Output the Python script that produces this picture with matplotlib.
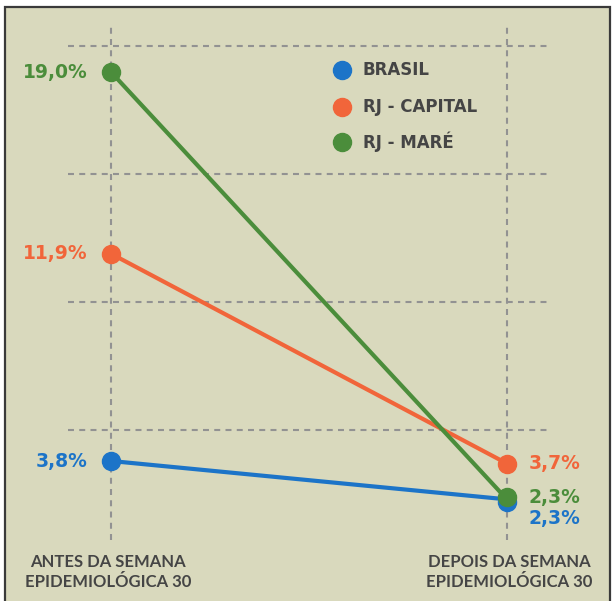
import matplotlib
matplotlib.use("Agg")
import matplotlib.pyplot as plt
from matplotlib.patches import Rectangle
from matplotlib.transforms import offset_copy

plt.rcParams['lines.scale_dashes'] = False

# Data
periods = ["ANTES DA SEMANA\nEPIDEMIOLÓGICA 30", "DEPOIS DA SEMANA\nEPIDEMIOLÓGICA 30"]
series_names = ["BRASIL", "RJ - CAPITAL", "RJ - MARÉ"]
brasil = [3.8, 2.3]
rj_capital = [11.9, 3.7]
rj_mare = [19.0, 2.3]
grid_values = [5, 10, 15, 20]

colors = {"BRASIL": "#1c74c8", "RJ - CAPITAL": "#f1653a", "RJ - MARÉ": "#4b8d3b"}
values = {"BRASIL": brasil, "RJ - CAPITAL": rj_capital, "RJ - MARÉ": rj_mare}

bg = "#d9d9bd"
text_gray = "#454545"
grid_gray = "#929292"
label_font = "Lato"
value_font = "DejaVu Sans"

W, H = 612, 601
fig = plt.figure(figsize=(W / 100, H / 100), dpi=100)
fig.patch.set_facecolor("white")

ax = fig.add_axes([0, 0, 1, 1])
ax.set_facecolor("none")
ax.set_xlim(-111 / 396, 501 / 396)
ax.set_ylim(3.8 - 140 / 25.59, 3.8 + 461 / 25.59)
ax.axis("off")

# Beige panel with dark outline
ax.add_patch(Rectangle((5 / W, -0.05), 605 / W, (H - 7) / H + 0.05,
                       transform=fig.transFigure, facecolor=bg,
                       edgecolor="#3a3a3a", linewidth=1.6, zorder=0,
                       clip_on=False))

x = [0, 1]

# Dashed guides
for g in grid_values:
    ax.plot([-0.1086, 1.106], [g, g], color=grid_gray, lw=1.5,
            dashes=(4.3, 3.8), zorder=1)
for xi in x:
    ax.axvline(xi, ymin=0.1015, ymax=0.962, color=grid_gray, lw=1.5,
               dashes=(4.3, 3.8), zorder=1)

# Series lines and points; small pixel nudges keep coincident end points visible
nudge = {"BRASIL": -2.5, "RJ - CAPITAL": 0, "RJ - MARÉ": 2.5}
for name in ["BRASIL", "RJ - CAPITAL", "RJ - MARÉ"]:
    v = values[name]
    c = colors[name]
    ax.plot(x, v, color=c, lw=3.0, zorder=3, solid_capstyle="round")
    ax.plot(x[:1], v[:1], "o", color=c, ms=13, zorder=4)
    tr = offset_copy(ax.transData, fig=fig, x=0, y=nudge[name], units="dots")
    ax.plot(x[1:], v[1:], "o", color=c, ms=13, zorder=4, transform=tr)

# Value labels
def fmt(v):
    return f"{v:.1f}".replace(".", ",") + "%"

for name in series_names:
    v = values[name]
    c = colors[name]
    ax.annotate(fmt(v[0]), (0, v[0]), xytext=(-23, 0), textcoords="offset pixels",
                ha="right", va="center", color=c, fontsize=13.5,
                fontfamily=value_font, fontweight="bold")

right_offsets = {"RJ - CAPITAL": 0, "RJ - MARÉ": 2, "BRASIL": -19}
for name in series_names:
    v = values[name]
    c = colors[name]
    ax.annotate(fmt(v[1]), (1, v[1]), xytext=(22, right_offsets[name]),
                textcoords="offset pixels", ha="left", va="center", color=c,
                fontsize=13.5, fontfamily=value_font, fontweight="bold")

# Legend
leg_y = [70, 107, 142]
for name, py in zip(series_names, leg_y):
    yv = 3.8 + (461 - py) / 25.59
    ax.plot([(342 - 111) / 396], [yv], "o", color=colors[name], ms=13, zorder=4)
    ax.text((363 - 111) / 396, yv, name, ha="left", va="center", color=text_gray,
            fontsize=12, fontfamily=value_font, fontweight="bold")

# Category labels under each column
cat_x = [(108 - 111) / 396, (509 - 111) / 396]
cat_y = 3.8 - (572 - 461) / 25.59
for cx, lab in zip(cat_x, periods):
    ax.text(cx, cat_y, lab, ha="center", va="center", color=text_gray,
            fontsize=12, fontfamily=label_font, fontweight="bold", linespacing=1.25)

fig.savefig("out.png", dpi=100, facecolor=fig.get_facecolor())
